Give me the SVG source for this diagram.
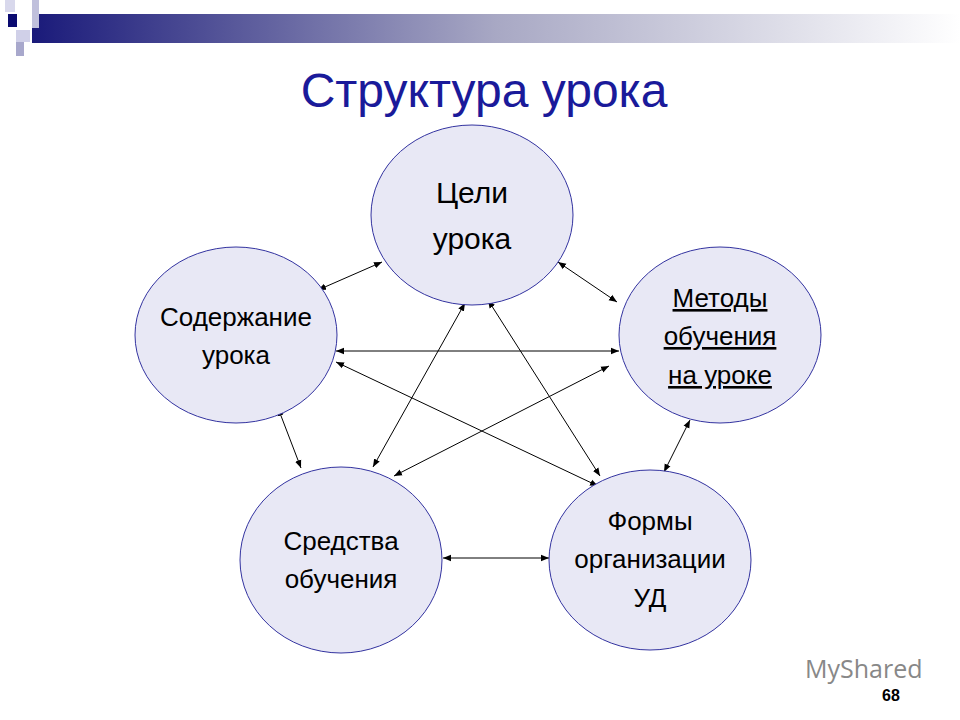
<svg xmlns="http://www.w3.org/2000/svg" width="960" height="720" viewBox="0 0 960 720">
<style>
.n{fill:#e8e8f5;stroke:#3333a0;stroke-width:1}
.t{font-family:"Liberation Sans",Arial,sans-serif;fill:#000;text-anchor:middle}
.c line{stroke:#000;stroke-width:1;marker-start:url(#a);marker-end:url(#a)}
</style>
<defs>
<linearGradient id="g" x1="0" x2="1"><stop offset="0" stop-color="#1a1a7a"/><stop offset="0.5" stop-color="#a8a8c4"/><stop offset="1" stop-color="#fff"/></linearGradient>
<marker id="a" viewBox="0 0 10 10" refX="10" refY="5" markerWidth="8" markerHeight="8" orient="auto-start-reverse" markerUnits="userSpaceOnUse"><path d="M0,1 L10,5 L0,9 z" fill="#000"/></marker>
</defs>
<rect width="960" height="720" fill="#fff"/>
<rect x="32" y="14" width="928" height="29" fill="url(#g)"/>
<rect x="5" y="0" width="10" height="12" fill="#d8d8ec"/>
<rect x="8" y="14" width="9" height="13" fill="#0a0a70"/>
<rect x="32" y="0" width="7" height="28" fill="#c0c0dc"/>
<rect x="16" y="30" width="14" height="12" fill="#d0d0e8"/>
<rect x="16" y="42" width="8" height="14" fill="#a8a8cc"/>
<text class="t" x="484" y="107" font-size="48" style="fill:#1a1a9a">Структура урока</text>
<g class="c">
<line x1="318" y1="290" x2="382" y2="262"/>
<line x1="558" y1="262" x2="617" y2="302"/>
<line x1="336" y1="351" x2="619" y2="351"/>
<line x1="278" y1="408" x2="301" y2="468"/>
<line x1="690" y1="420" x2="664" y2="472"/>
<line x1="443" y1="558" x2="549" y2="558"/>
<line x1="465" y1="303" x2="373" y2="467"/>
<line x1="488" y1="300" x2="600" y2="476"/>
<line x1="336" y1="362" x2="598" y2="486"/>
<line x1="609" y1="366" x2="394" y2="476"/>
</g>
<g id="celi"><ellipse class="n" cx="472" cy="215" rx="101" ry="90"/>
<text class="t" x="472" y="203" font-size="30">Цели</text><text class="t" x="472" y="249" font-size="30">урока</text></g>
<g id="soderzhanie"><ellipse class="n" cx="236" cy="335" rx="101" ry="88"/>
<text class="t" x="236" y="326" font-size="26">Содержание</text><text class="t" x="236" y="364" font-size="26">урока</text></g>
<g id="metody"><ellipse class="n" cx="720" cy="335" rx="101" ry="88"/>
<text class="t" x="720" y="307" font-size="26" text-decoration="underline">Методы</text><text class="t" x="720" y="345" font-size="26" text-decoration="underline">обучения</text><text class="t" x="720" y="384" font-size="26" text-decoration="underline">на уроке</text></g>
<g id="sredstva"><ellipse class="n" cx="341" cy="560" rx="101" ry="93"/>
<text class="t" x="341" y="550" font-size="26">Средства</text><text class="t" x="341" y="588" font-size="26">обучения</text></g>
<g id="formy"><ellipse class="n" cx="650" cy="560" rx="101" ry="90"/>
<text class="t" x="650" y="530" font-size="26">Формы</text><text class="t" x="650" y="568" font-size="26">организации</text><text class="t" x="650" y="607" font-size="26">УД</text></g>
<text x="805" y="678" font-family="Open Sans,sans-serif" font-size="25" fill="#888">MyShared</text>
<text x="891" y="701" class="t" font-size="16" font-weight="bold">68</text>
</svg>
